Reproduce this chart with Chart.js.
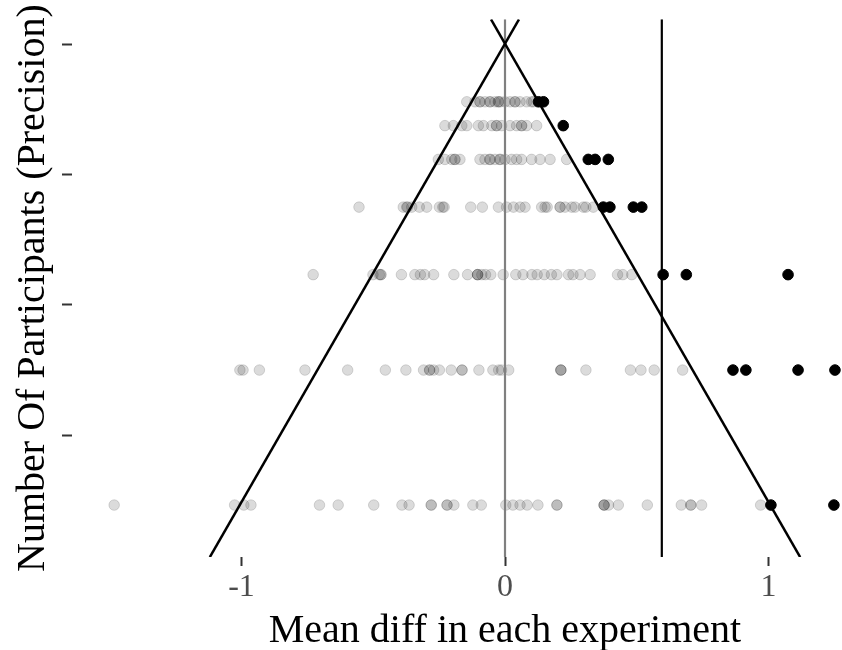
<!DOCTYPE html>
<html>
<head>
<meta charset="utf-8">
<script src="https://cdn.jsdelivr.net/npm/chart.js@4/dist/chart.umd.min.js"></script>
<style>
  html, body { margin: 0; padding: 0; background: #ffffff; overflow: hidden; }
  #wrap { width: 938px; height: 650px; }
</style>
</head>
<body>
<div id="wrap"><canvas id="funnel" width="938" height="650"></canvas></div>
<script>
// Sample sizes per simulated experiment and the standard error of each row
const participants = [256, 128, 64, 32, 16, 8, 4];
const rowSE = [0.0884, 0.125, 0.1768, 0.25, 0.3536, 0.5, 0.7071];

// Mean differences that stay inside the funnel (grey) and those beyond it (black)
const inside256 = [-0.145, -0.114, -0.095, -0.095, -0.076, -0.057, -0.057, -0.038, -0.025, -0.025, -0.018, 0, 0.019, 0.038, 0.038, 0.057, 0.082, 0.101, 0.108];
const beyond256 = [0.127, 0.146];
const inside128 = [-0.228, -0.196, -0.164, -0.145, -0.101, -0.082, -0.05, -0.032, -0.032, -0.013, 0.019, 0.044, 0.063, 0.063, 0.082, 0.12];
const beyond128 = [0.221];
const inside64 = [-0.253, -0.228, -0.202, -0.19, -0.19, -0.171, -0.095, -0.076, -0.057, -0.057, -0.038, -0.019, -0.019, 0, 0.025, 0.044, 0.063, 0.101, 0.133, 0.171, 0.234];
const beyond64 = [0.316, 0.342, 0.392];
const inside32 = [-0.554, -0.386, -0.373, -0.37, -0.354, -0.325, -0.297, -0.249, -0.236, -0.231, -0.13, -0.086, -0.025, 0.006, 0.032, 0.057, 0.076, 0.139, 0.152, 0.16, 0.209, 0.209, 0.228, 0.253, 0.266, 0.297, 0.307, 0.335];
const beyond32 = [0.373, 0.398, 0.487, 0.519];
const inside16 = [-0.728, -0.501, -0.477, -0.471, -0.471, -0.393, -0.342, -0.321, -0.305, -0.271, -0.194, -0.142, -0.104, -0.104, -0.104, -0.088, -0.074, -0.054, -0.007, 0.041, 0.068, 0.102, 0.122, 0.149, 0.176, 0.197, 0.241, 0.258, 0.285, 0.323, 0.427, 0.447, 0.481];
const beyond16 = [0.6, 0.688, 1.074];
const inside8 = [-1.006, -0.994, -0.932, -0.759, -0.597, -0.454, -0.376, -0.309, -0.286, -0.286, -0.271, -0.249, -0.204, -0.163, -0.163, -0.099, -0.046, -0.024, -0.013, 0.014, 0.212, 0.212, 0.212, 0.307, 0.476, 0.516, 0.566, 0.674];
const beyond8 = [0.865, 0.914, 1.112, 1.252];
const inside4 = [-1.483, -1.026, -0.991, -0.964, -0.704, -0.633, -0.498, -0.391, -0.364, -0.28, -0.28, -0.22, -0.22, -0.194, -0.122, -0.09, 0.003, 0.03, 0.057, 0.084, 0.125, 0.197, 0.197, 0.376, 0.376, 0.376, 0.393, 0.43, 0.54, 0.669, 0.705, 0.705, 0.746, 0.97];
const beyond4 = [1.009, 1.248];

const insideRows = [inside256, inside128, inside64, inside32, inside16, inside8, inside4];
const beyondRows = [beyond256, beyond128, beyond64, beyond32, beyond16, beyond8, beyond4];

// Reference lines: no effect, and the mean of all experiments
const nullEffect = 0;
const observedMean = 0.595;

// Funnel boundaries, end points in (mean diff, standard error)
const funnelLeft = [[-1.12, 0.787], [0.053, -0.038]];
const funnelRight = [[1.12, 0.787], [-0.053, -0.038]];

// Axis ranges and ticks
const xRange = [-1.643, 1.643];
const seRange = [-0.0383, 0.7868];
const xTickValues = [-1, 0, 1];
const seTickValues = [0, 0.2, 0.4, 0.6];

const serif = "'Liberation Serif', 'DejaVu Serif', serif";

function rowPoints(rows) {
  const pts = [];
  rows.forEach((vals, i) => vals.forEach(v => pts.push({ x: v, y: rowSE[i] })));
  return pts;
}
const pairs = arr => arr.map(p => ({ x: p[0], y: p[1] }));
const vline = x => [{ x: x, y: seRange[0] }, { x: x, y: seRange[1] }];

const lineStyle = { showLine: true, pointRadius: 0, pointHoverRadius: 0, fill: false, tension: 0 };

new Chart(document.getElementById('funnel'), {
  type: 'scatter',
  data: {
    datasets: [
      Object.assign({ label: 'funnel left', data: pairs(funnelLeft), borderColor: '#000000', borderWidth: 2.5, order: 0 }, lineStyle),
      Object.assign({ label: 'funnel right', data: pairs(funnelRight), borderColor: '#000000', borderWidth: 2.5, order: 0 }, lineStyle),
      Object.assign({ label: 'mean', data: vline(observedMean), borderColor: '#000000', borderWidth: 2.2, order: 0 }, lineStyle),
      Object.assign({ label: 'zero', data: vline(nullEffect), borderColor: '#808080', borderWidth: 2.2, order: 0 }, lineStyle),
      {
        label: 'beyond funnel', data: rowPoints(beyondRows),
        backgroundColor: '#000000', borderColor: '#000000', borderWidth: 1, pointRadius: 5.3, order: 1
      },
      {
        label: 'inside funnel', data: rowPoints(insideRows),
        backgroundColor: 'rgba(0,0,0,0.14)', borderColor: 'rgba(0,0,0,0.14)', borderWidth: 1, pointRadius: 5.3, order: 2
      }
    ]
  },
  options: {
    responsive: false,
    devicePixelRatio: 1,
    animation: false,
    layout: { autoPadding: false, padding: { top: 18, left: 0, right: 0, bottom: 0 } },
    plugins: { legend: { display: false }, tooltip: { enabled: false } },
    scales: {
      x: {
        type: 'linear', min: xRange[0], max: xRange[1],
        afterBuildTicks: s => { s.ticks = xTickValues.map(v => ({ value: v })); },
        afterFit: s => { s.height = 93; },
        border: { display: false },
        grid: { drawOnChartArea: false, drawTicks: true, tickLength: 9, tickWidth: 2, tickColor: '#333333' },
        ticks: { autoSkip: false, maxRotation: 0, padding: 2, color: '#4d4d4d', font: { family: serif, size: 32 }, callback: v => String(v) },
        title: { display: true, text: 'Mean diff in each experiment', color: '#000000', font: { family: serif, size: 40 }, padding: { top: 0, bottom: -5 } }
      },
      y: {
        type: 'linear', reverse: true, min: seRange[0], max: seRange[1],
        afterBuildTicks: s => { s.ticks = seTickValues.map(v => ({ value: v })); },
        afterFit: s => { s.width = 72; },
        border: { display: false },
        grid: { drawOnChartArea: false, drawTicks: true, tickLength: 10, tickWidth: 2, tickColor: '#333333' },
        ticks: { autoSkip: false, padding: 0, font: { family: serif, size: 32 }, callback: () => '' },
        title: { display: true, text: 'Number Of Participants (Precision)', color: '#000000', font: { family: serif, size: 40 }, padding: { top: 9, bottom: 0 } }
      }
    }
  }
});
</script>
</body>
</html>
